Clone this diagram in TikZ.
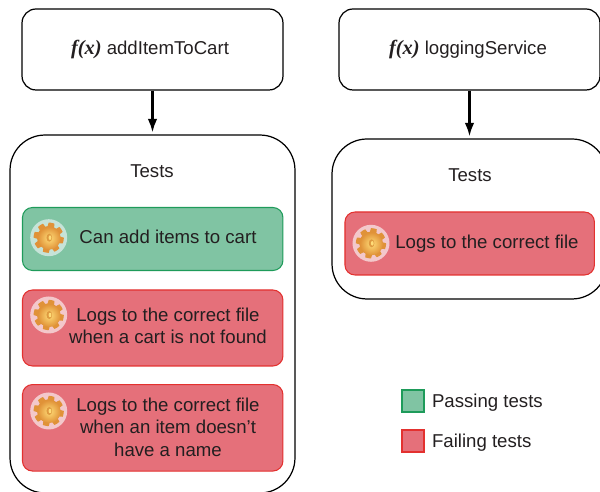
\documentclass[tikz,border=0pt]{standalone}
\usepackage{fontspec}
\setmainfont{Liberation Sans}
\newfontfamily\fxfont{Liberation Serif}
\usetikzlibrary{arrows.meta,positioning}
\definecolor{passfill}{HTML}{80C4A3}
\definecolor{passline}{HTML}{1E9B5A}
\definecolor{passhalo}{HTML}{C6E3D8}
\definecolor{failfill}{HTML}{E5707A}
\definecolor{failline}{HTML}{E3312F}
\definecolor{failhalo}{HTML}{F3C8CB}
\definecolor{inktext}{HTML}{231F20}
\definecolor{geardark}{HTML}{E09238}
\definecolor{gearlight}{HTML}{FFDC78}
\definecolor{gearhole}{HTML}{DE9A40}
\newcommand{\fx}{{\fxfont\fontsize{11.6}{12.8}\selectfont\itshape\bfseries f(x)}}
\tikzset{
  funcbox/.style={draw=black, line width=0.7pt, rounded corners=0.28cm, minimum width=5.22cm, minimum height=1.62cm, text=inktext, font=\fontsize{10.6}{12.8}\selectfont},
  suitebox/.style={draw=black, line width=0.7pt, rounded corners=0.7cm, minimum width=#1},
  passbox/.style={draw=passline, fill=passfill, line width=0.6pt, rounded corners=0.2cm, minimum width=5.21cm},
  failbox/.style={draw=failline, fill=failfill, line width=0.6pt, rounded corners=0.2cm, minimum width=5.21cm},
  testtext/.style={text=inktext, align=center, inner sep=0pt, font=\fontsize{10.6}{12.8}\selectfont},
  keybox/.style={draw=#1line, fill=#1fill, line width=0.8pt, minimum size=0.44cm, inner sep=0pt},
  flow/.style={-{Latex[length=0.27cm,width=0.19cm]}, line width=1.2pt, shorten >=0.04cm},
  gearicon/.pic={
    \fill[#1] (0,0) circle (18.5);
    \fill[geardark]
      plot[samples=145, domain=0:360] (\x:{13.3+1.8*max(-1,min(1,3*sin(8*\x)+1))}) -- cycle;
    \shade[inner color=gearlight, outer color=geardark] (0.5,0.5) circle (11.5);
    \fill[gearhole] (0.6,0) ellipse (2.8 and 4);
    \fill[gearlight] (1.3,0) ellipse (1.4 and 2.3);
  }
}
\begin{document}
\begin{tikzpicture}[x=0.02cm, y=-0.02cm]
    \useasboundingbox (0, 0) rectangle (600, 492);
    \clip (0, 0) rectangle (600, 492);

    % left column
    \node[funcbox] (addfunc) at (152.5, 49.5) {\fx\ addItemToCart\kern0.1cm};
    \node[suitebox=5.7cm, minimum height=7.16cm] (addsuite) at (152.5, 314) {};
    \draw[flow] (addfunc) -- (addsuite);
    \node[testtext] (addtitle) at (152, 171) {Tests};

    \node[passbox, minimum height=1.26cm] (addpass) at (152.7, 239) {};
    \node[testtext] (addpasstext) at (168, 237) {Can add items to cart};

    \node[failbox, minimum height=1.52cm] (addfail) at (152.7, 328) {};
    \node[testtext] (addfailtext) at (168, 326) {Logs to the correct file\\when a cart is not found};

    \node[failbox, minimum height=1.73cm] (namefail) at (152.7, 427.8) {};
    \node[testtext] (namefailtext) at (168, 427) {Logs to the correct file\\when an item doesn’t\\have a name};

    \pic at (48.7, 237.7) {gearicon=passhalo};
    \pic at (48.7, 315) {gearicon=failhalo};
    \pic at (48.7, 411) {gearicon=failhalo};

    % right column
    \node[funcbox] (logfunc) at (469.5, 49.5) {\fx\ loggingService\kern0.06cm};
    \node[suitebox=5.5cm, minimum height=3.2cm] (logsuite) at (469.5, 219) {};
    \draw[flow] (logfunc) -- (logsuite);
    \node[testtext] (logtitle) at (470, 175) {Tests};

    \node[failbox, minimum width=4.99cm, minimum height=1.26cm] (logfail) at (469.7, 243.5) {};
    \node[testtext] (logfailtext) at (487, 243.5) {Logs to the correct file};
    \pic at (371, 243.3) {gearicon=failhalo};

    % legend
    \node[keybox=pass] (passkey) at (413, 401) {};
    \node[testtext, right=0.14cm of passkey, yshift=-0.04cm] (passlabel) {Passing tests};
    \node[keybox=fail] (failkey) at (413, 441) {};
    \node[testtext, right=0.14cm of failkey, yshift=-0.04cm] (faillabel) {Failing tests};

\end{tikzpicture}
\end{document}
